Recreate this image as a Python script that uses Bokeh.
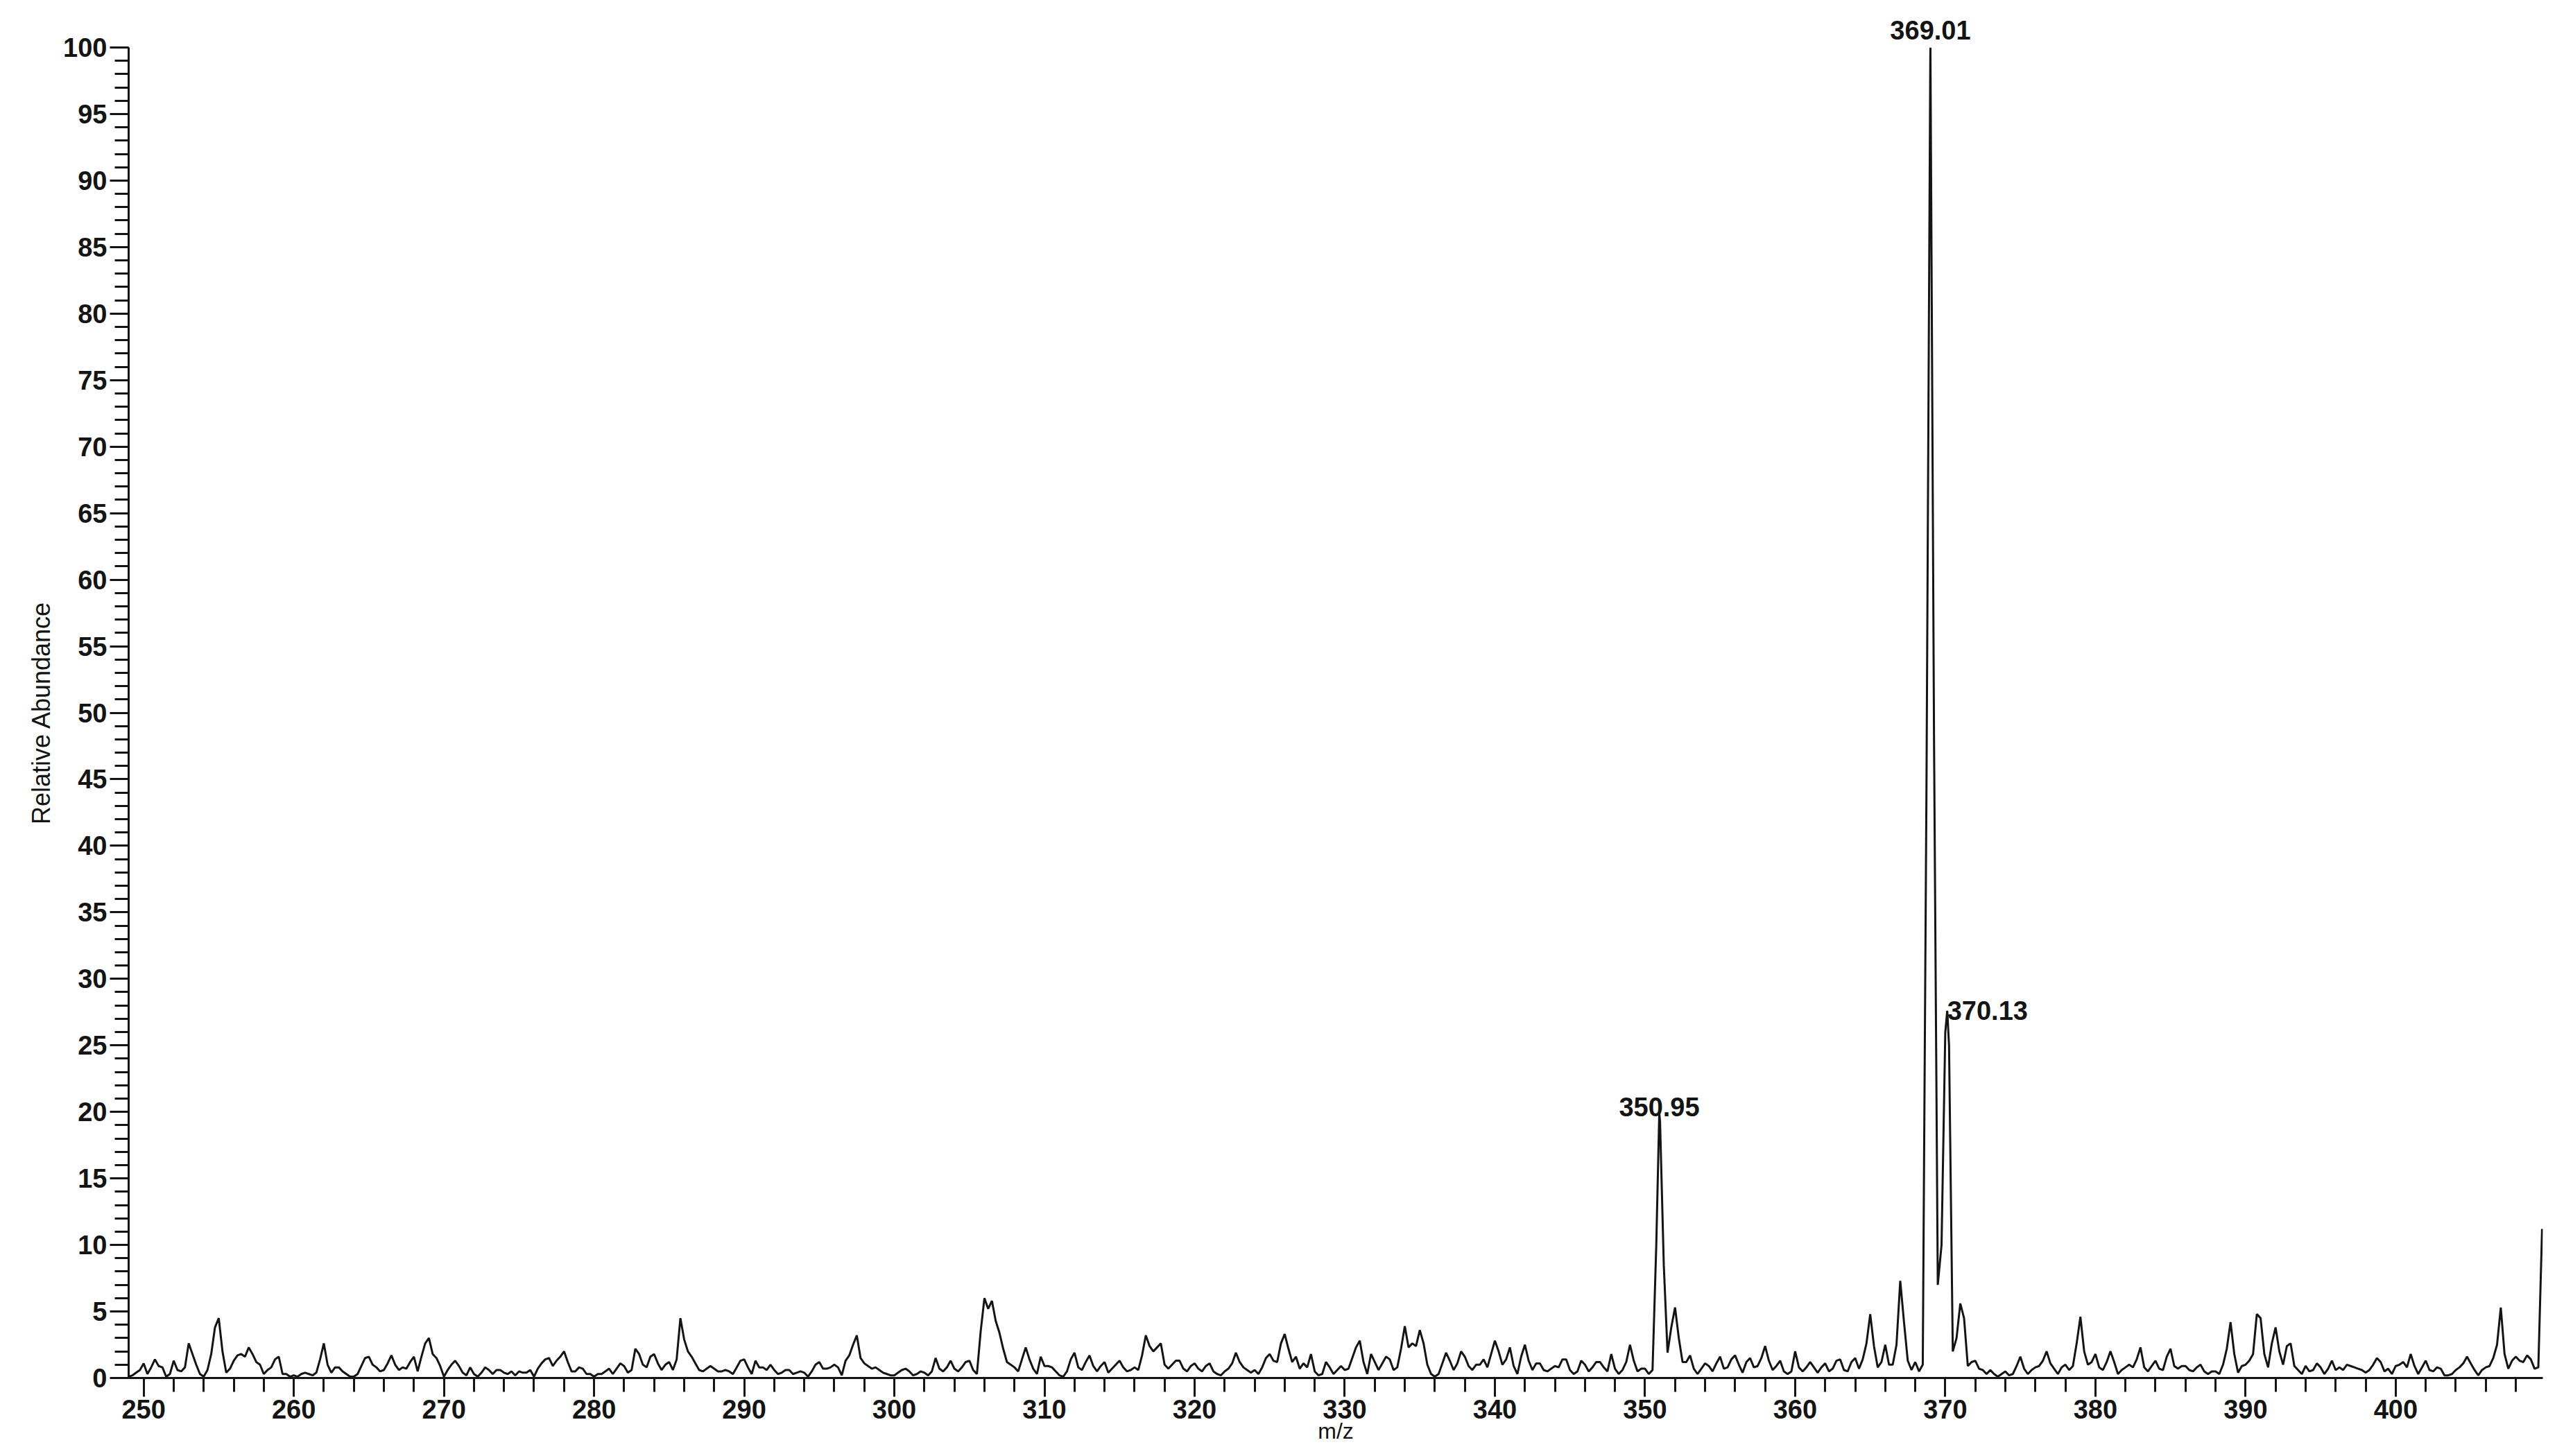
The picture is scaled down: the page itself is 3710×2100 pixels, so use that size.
import numpy as np
from bokeh.plotting import figure
from bokeh.models import Range1d, SingleIntervalTicker, FixedTicker, Label, LinearAxis
from bokeh.embed import file_html
from bokeh.resources import INLINE

# ---------------- data (relative abundance sampled every 0.25 m/z) ----------------
STEP = 0.25

int_249 = [0.1, 0.2, 0.4, 0.6]  # 249.00 - 249.75

int_250 = [
    1.1, 0.3, 0.8, 1.4, 0.9, 0.8, 0.1, 0.3,
    1.3, 0.6, 0.5, 0.8, 2.6, 1.8, 1.0, 0.3,
    0.1, 0.6, 1.8, 3.8, 4.5, 2.0, 0.4, 0.7,
    1.3, 1.7, 1.8, 1.6, 2.3, 1.8, 1.2, 1.0,
    0.3, 0.6, 0.8, 1.4, 1.6, 0.3, 0.3, 0.1,
]
int_260 = [
    0.2, 0.1, 0.3, 0.4, 0.3, 0.2, 0.4, 1.4,
    2.6, 1.0, 0.4, 0.8, 0.8, 0.5, 0.3, 0.1,
    0.1, 0.3, 0.9, 1.5, 1.6, 1.0, 0.8, 0.5,
    0.6, 1.1, 1.7, 1.0, 0.6, 0.8, 0.7, 1.2,
    1.6, 0.5, 1.6, 2.6, 3.0, 1.8, 1.5, 0.9,
]
int_270 = [
    0.1, 0.6, 1.0, 1.3, 0.9, 0.4, 0.2, 0.8,
    0.3, 0.1, 0.4, 0.8, 0.6, 0.3, 0.6, 0.6,
    0.4, 0.3, 0.5, 0.2, 0.5, 0.4, 0.4, 0.6,
    0.1, 0.7, 1.1, 1.4, 1.5, 0.9, 1.3, 1.6,
    2.0, 1.2, 0.5, 0.5, 0.8, 0.7, 0.3, 0.3,
]
int_280 = [
    0.1, 0.3, 0.3, 0.5, 0.7, 0.3, 0.7, 1.1,
    0.9, 0.4, 0.6, 2.2, 1.8, 1.0, 0.8, 1.6,
    1.8, 1.1, 0.6, 1.0, 1.2, 0.6, 1.4, 4.5,
    2.9, 2.0, 1.6, 1.1, 0.6, 0.5, 0.7, 0.9,
    0.7, 0.5, 0.5, 0.6, 0.5, 0.3, 0.8, 1.3,
]
int_290 = [
    1.4, 0.8, 0.3, 1.3, 0.8, 0.8, 0.6, 1.0,
    0.6, 0.3, 0.4, 0.6, 0.6, 0.3, 0.4, 0.5,
    0.4, 0.1, 0.5, 1.0, 1.2, 0.7, 0.7, 0.8,
    1.0, 0.8, 0.2, 1.3, 1.7, 2.5, 3.2, 1.5,
    1.1, 0.9, 0.7, 0.8, 0.6, 0.4, 0.3, 0.2,
]
int_300 = [
    0.2, 0.4, 0.6, 0.7, 0.5, 0.2, 0.3, 0.5,
    0.4, 0.2, 0.5, 1.5, 0.7, 0.5, 0.8, 1.3,
    0.7, 0.5, 0.8, 1.2, 1.3, 0.6, 0.3, 3.5,
    6.0, 5.2, 5.8, 4.3, 3.4, 2.2, 1.2, 1.0,
    0.8, 0.5, 1.4, 2.3, 1.4, 0.7, 0.3, 1.6,
]
int_310 = [
    0.9, 0.9, 0.8, 0.5, 0.2, 0.1, 0.5, 1.4,
    1.9, 0.8, 0.6, 1.2, 1.7, 0.9, 0.5, 0.9,
    1.2, 0.4, 0.7, 1.0, 1.3, 0.8, 0.5, 0.6,
    0.8, 0.6, 1.7, 3.2, 2.4, 2.0, 2.3, 2.6,
    1.0, 0.7, 1.0, 1.3, 1.3, 0.7, 0.5, 0.9,
]
int_320 = [
    1.1, 0.7, 0.5, 0.9, 1.1, 0.5, 0.3, 0.2,
    0.5, 0.7, 1.1, 1.9, 1.2, 0.8, 0.6, 0.4,
    0.6, 0.3, 0.8, 1.5, 1.8, 1.3, 1.2, 2.6,
    3.3, 2.2, 1.2, 1.6, 0.7, 1.1, 0.8, 1.8,
    0.5, 0.2, 0.3, 1.2, 0.8, 0.3, 0.6, 0.9,
]
int_330 = [
    0.6, 0.7, 1.5, 2.3, 2.8, 1.2, 0.3, 1.8,
    1.2, 0.6, 1.1, 1.6, 1.4, 0.6, 0.8, 2.2,
    3.9, 2.3, 2.6, 2.4, 3.6, 2.6, 1.0, 0.3,
    0.1, 0.3, 1.1, 1.9, 1.3, 0.6, 1.1, 2.0,
    1.6, 0.9, 0.6, 1.0, 1.0, 1.4, 0.8, 1.8,
]
int_340 = [
    2.8, 2.0, 1.0, 1.4, 2.3, 0.9, 0.3, 1.6,
    2.5, 1.3, 0.6, 1.1, 1.1, 0.6, 0.5, 0.7,
    0.9, 0.8, 1.4, 1.4, 0.6, 0.3, 0.5, 1.3,
    1.0, 0.5, 0.8, 1.2, 1.2, 0.8, 0.5, 1.8,
    0.7, 0.3, 0.6, 1.2, 2.5, 1.3, 0.5, 0.7,
]
int_350 = [
    0.7, 0.3, 0.6, 10.0, 19.3, 8.5, 1.9, 3.8,
    5.3, 3.0, 1.2, 1.2, 1.7, 0.7, 0.3, 0.7,
    1.1, 0.9, 0.5, 1.1, 1.6, 0.7, 0.8, 1.4,
    1.7, 1.0, 0.4, 1.2, 1.5, 0.8, 0.9, 1.5,
    2.4, 1.3, 0.6, 0.9, 1.3, 0.5, 0.3, 0.5,
]
int_360 = [
    2.0, 0.8, 0.5, 0.8, 1.2, 0.8, 0.4, 0.8,
    1.1, 0.5, 0.7, 1.3, 1.4, 0.6, 0.5, 1.2,
    1.5, 0.7, 1.4, 2.6, 4.8, 2.4, 0.8, 1.2,
    2.5, 1.0, 1.0, 2.5, 7.3, 4.2, 1.3, 0.6,
    1.2, 0.5, 1.0, 45.0, 99.0, 48.0, 7.0, 10.0,
]
int_370 = [
    26.0, 25.0, 2.0, 3.0, 5.6, 4.5, 0.9, 1.2,
    1.3, 0.7, 0.6, 0.3, 0.6, 0.3, 0.1, 0.3,
    0.5, 0.2, 0.3, 0.9, 1.6, 0.7, 0.3, 0.6,
    0.8, 0.9, 1.3, 2.0, 1.1, 0.7, 0.3, 0.8,
    1.0, 0.6, 0.9, 2.6, 4.6, 2.0, 1.0, 1.2,
]
int_380 = [
    1.8, 0.8, 0.6, 1.2, 2.0, 1.2, 0.3, 0.6,
    0.8, 1.0, 0.8, 1.4, 2.3, 0.8, 0.5, 0.9,
    1.3, 0.7, 0.6, 1.6, 2.2, 0.9, 0.7, 0.9,
    0.9, 0.6, 0.5, 0.8, 1.0, 0.5, 0.3, 0.5,
    0.5, 0.3, 1.0, 2.2, 4.2, 1.8, 0.4, 0.9,
]
int_390 = [
    1.0, 1.3, 1.8, 4.8, 4.5, 1.8, 0.8, 2.6,
    3.8, 2.0, 1.0, 2.4, 2.6, 0.9, 0.6, 0.3,
    0.9, 0.5, 0.6, 1.1, 0.8, 0.3, 0.7, 1.3,
    0.6, 0.8, 0.6, 1.0, 0.9, 0.8, 0.7, 0.6,
    0.4, 0.6, 1.0, 1.5, 1.2, 0.5, 0.7, 0.3,
]
int_400 = [
    0.9, 1.0, 1.2, 0.8, 1.8, 0.9, 0.3, 0.8,
    1.3, 0.6, 0.5, 0.8, 0.7, 0.2, 0.2, 0.3,
    0.6, 0.8, 1.1, 1.6, 1.1, 0.6, 0.2, 0.6,
    0.8, 0.9, 1.5, 2.5, 5.3, 1.8, 0.7, 1.3,
    1.6, 1.3, 1.2, 1.7, 1.4, 0.7, 0.8, 11.2,
]

segments = [
    (249.0, int_249), (250.0, int_250), (260.0, int_260), (270.0, int_270),
    (280.0, int_280), (290.0, int_290), (300.0, int_300), (310.0, int_310),
    (320.0, int_320), (330.0, int_330), (340.0, int_340), (350.0, int_350),
    (360.0, int_360), (370.0, int_370), (380.0, int_380), (390.0, int_390),
    (400.0, int_400),
]

# labelled peaks (apex m/z and relative abundance)
peak_mz = [350.95, 369.01, 370.13]
peak_int = [19.9, 100.0, 27.6]
peak_text = ["350.95", "369.01", "370.13"]

x_ticks_interval = 10
y_ticks_interval = 5

# ---------------- build profile ----------------
mz_parts, ab_parts = [], []
for start, vals in segments:
    mz_parts.append(start + STEP * np.arange(len(vals)))
    ab_parts.append(np.asarray(vals, dtype=float))
mz = np.concatenate(mz_parts + [np.asarray(peak_mz)])
ab = np.concatenate(ab_parts + [np.asarray(peak_int)])
order = np.argsort(mz, kind="stable")
mz, ab = mz[order], ab[order]

# ---------------- figure ----------------
FONT = "Liberation Sans"
INK = "#141414"

p = figure(
    width=3694, height=2084,
    x_range=Range1d(249.0, 409.8), y_range=Range1d(0, 100),
    output_backend="svg", toolbar_location=None, title=None,
    min_border_left=185, min_border_right=28,
    min_border_top=68, min_border_bottom=96,
)
p.outline_line_color = None
p.xgrid.visible = False
p.ygrid.visible = False
p.background_fill_color = "white"
p.border_fill_color = "white"

p.line(mz, ab, line_color=INK, line_width=3)

# axes
p.xaxis.ticker = SingleIntervalTicker(interval=x_ticks_interval, num_minor_ticks=5)
p.yaxis.ticker = SingleIntervalTicker(interval=y_ticks_interval, num_minor_ticks=5)
for ax in (p.xaxis[0], p.yaxis[0]):
    ax.axis_line_color = INK
    ax.axis_line_width = 3
    ax.major_tick_line_color = INK
    ax.major_tick_line_width = 3
    ax.minor_tick_line_color = INK
    ax.minor_tick_line_width = 3
    ax.major_tick_out = 27
    ax.major_tick_in = 0
    ax.minor_tick_out = 20
    ax.minor_tick_in = 0
    ax.major_label_text_font = FONT
    ax.major_label_text_font_size = "38px"
    ax.major_label_text_font_style = "bold"
    ax.major_label_text_color = INK

p.xaxis.major_label_standoff = 4
p.yaxis.major_label_standoff = 4
p.yaxis.axis_label = "Relative Abundance"
p.yaxis.axis_label_text_font = FONT
p.yaxis.axis_label_text_font_size = "36px"
p.yaxis.axis_label_text_font_style = "normal"
p.yaxis.axis_label_text_color = INK
p.yaxis.axis_label_standoff = 8

p.xaxis.axis_label = "m/z"
p.xaxis.axis_label_text_font = FONT
p.xaxis.axis_label_text_font_size = "32px"
p.xaxis.axis_label_text_font_style = "normal"
p.xaxis.axis_label_text_color = INK
p.xaxis.axis_label_standoff = -3

# base-peak label above the frame: an unlined axis with one tick at the apex
top_axis = LinearAxis(
    ticker=FixedTicker(ticks=[peak_mz[1]]),
    major_label_overrides={peak_mz[1]: peak_text[1]},
    axis_line_color=None, major_tick_line_color=None, minor_tick_line_color=None,
    major_tick_out=0, major_tick_in=0, major_label_standoff=12,
    major_label_text_font=FONT, major_label_text_font_size="38px",
    major_label_text_font_style="bold", major_label_text_color=INK,
)
p.add_layout(top_axis, "above")

# labels of the other peaks, inside the frame
label_style = {
    "350.95": dict(align="center", yo=9),
    "370.13": dict(align="left", yo=0),
}
for mzv, iv, txt in zip(peak_mz, peak_int, peak_text):
    if txt not in label_style:
        continue
    st = label_style[txt]
    p.add_layout(Label(
        x=mzv, y=iv, text=txt, text_align=st["align"], text_baseline="alphabetic",
        y_offset=st["yo"],
        text_font=FONT, text_font_size="38px", text_font_style="bold", text_color=INK,
    ))

open("out.html", "w").write(file_html(p, INLINE))
